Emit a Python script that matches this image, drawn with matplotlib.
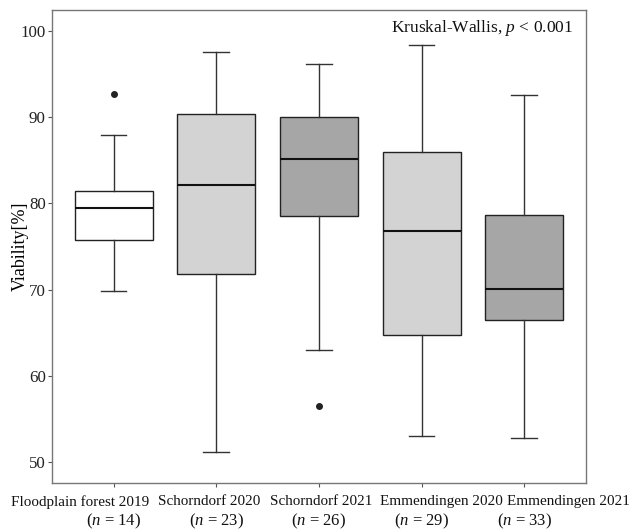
import matplotlib
matplotlib.use("Agg")
import matplotlib.pyplot as plt

plt.rcParams['font.family'] = ['Liberation Serif', 'DejaVu Serif']
plt.rcParams['mathtext.fontset'] = 'custom'
plt.rcParams['mathtext.it'] = 'Liberation Serif:italic'
plt.rcParams['mathtext.rm'] = 'Liberation Serif'

categories = ["Floodplain forest 2019", "Schorndorf 2020", "Schorndorf 2021",
              "Emmendingen 2020", "Emmendingen 2021"]
n_values = [14, 23, 26, 29, 33]
whisker_low = [69.8, 51.2, 63.0, 53.1, 52.8]
q1 = [75.7, 71.8, 78.5, 64.8, 66.5]
median = [79.5, 82.1, 85.2, 76.8, 70.1]
q3 = [81.4, 90.35, 90.0, 85.9, 78.65]
whisker_high = [87.95, 97.5, 96.2, 98.4, 92.6]
outliers = [[92.7], [], [56.5], [], []]
fill_colors = ["#FFFFFF", "#D3D3D3", "#A6A6A6", "#D3D3D3", "#A6A6A6"]

fig = plt.figure(figsize=(6.32, 5.30), dpi=100)
ax = fig.add_axes([0.0823, 0.0887, 0.927 - 0.0823, 0.981 - 0.0887])

stats = []
for i in range(len(categories)):
    stats.append(dict(med=median[i], q1=q1[i], q3=q3[i],
                      whislo=whisker_low[i], whishi=whisker_high[i],
                      fliers=outliers[i]))

positions = list(range(1, len(categories) + 1))
bp = ax.bxp(stats, positions=positions, widths=0.76, patch_artist=True,
            showfliers=True,
            boxprops=dict(edgecolor="#222222", linewidth=1.0),
            medianprops=dict(color="#111111", linewidth=1.5),
            whiskerprops=dict(color="#333333", linewidth=1.0),
            capprops=dict(color="#333333", linewidth=1.0),
            capwidths=0.25,
            flierprops=dict(marker="o", markerfacecolor="#222222",
                            markeredgecolor="#222222", markersize=4))
for patch, c in zip(bp['boxes'], fill_colors):
    patch.set_facecolor(c)

ax.set_xlim(0.4, 5.6)
ax.set_ylim(47.6, 102.4)
ax.set_yticks([50, 60, 70, 80, 90, 100])
ax.set_xticks(positions)
ax.set_xticklabels([])
ax.tick_params(axis='y', labelsize=12.2, colors="#222222", length=3,
               color="#555555", pad=1.5)
ax.tick_params(axis='x', length=3, color="#555555")
for s in ax.spines.values():
    s.set_color("#777777")
    s.set_linewidth(1.0)
ax.set_ylabel("Viability[%]", fontsize=13)
ax.yaxis.set_label_coords(-0.044, 0.5)

# category names spread out to avoid overlap (as in the reference)
name_shift = [-0.33, -0.065, 0.02, 0.19, 0.43]
for p, c, n, dx in zip(positions, categories, n_values, name_shift):
    ax.annotate(c, xy=(p + dx, 0), xycoords=('data', 'axes fraction'),
                xytext=(0, -8.5), textcoords='offset points',
                ha='center', va='top', fontsize=10.9, color="#111111")
    ax.annotate(f"($n$ = {n})", xy=(p, 0), xycoords=('data', 'axes fraction'),
                xytext=(0, -20.5), textcoords='offset points',
                ha='center', va='top', fontsize=12, color="#111111")

ax.annotate("Kruskal-Wallis, $p$ < 0.001", xy=(1, 1), xycoords='axes fraction',
            xytext=(-9.5, -6), textcoords='offset points',
            ha="right", va="top", fontsize=12.5, color="#111111")

fig.savefig("out.png", dpi=100)
